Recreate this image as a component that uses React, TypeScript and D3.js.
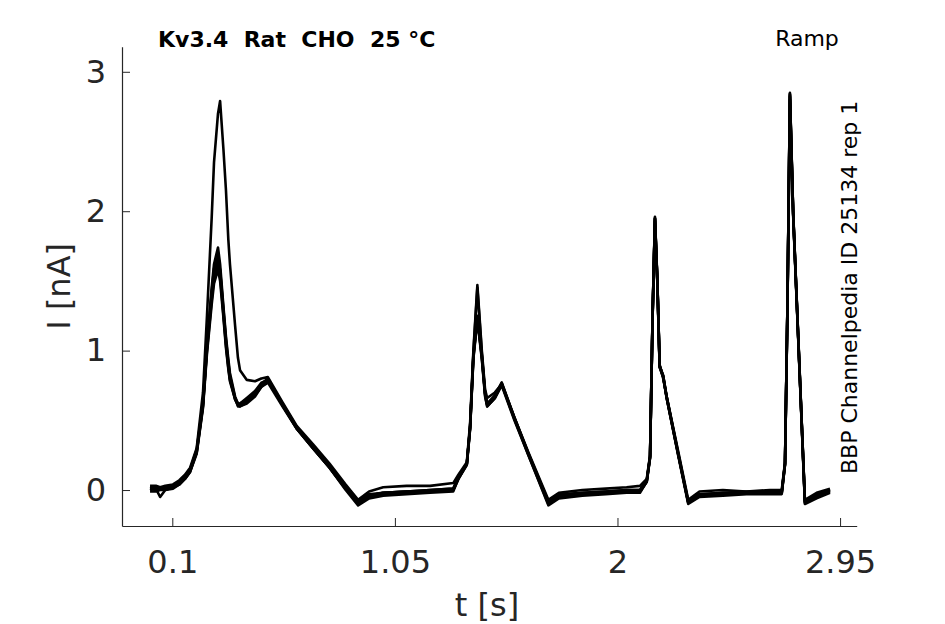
import React, { useEffect, useRef } from 'react';
import * as d3 from 'd3';

// sample times [s], shared by all sweeps
const times = [
  0.005, 0.03, 0.048, 0.07, 0.103, 0.13, 0.154, 0.176, 0.204, 0.231,
  0.248, 0.268, 0.278, 0.295, 0.304, 0.318, 0.329, 0.339, 0.346, 0.368,
  0.38, 0.389, 0.418, 0.453, 0.48, 0.508, 0.57, 0.631, 0.7, 0.771,
  0.84, 0.893, 0.94, 1.0, 1.1, 1.2, 1.299, 1.321, 1.357, 1.371,
  1.385, 1.402, 1.421, 1.435, 1.444, 1.477, 1.506, 1.56, 1.62, 1.705,
  1.75, 1.85, 1.95, 2.039, 2.096, 2.125, 2.139, 2.15, 2.16, 2.17,
  2.18, 2.195, 2.21, 2.26, 2.302, 2.35, 2.45, 2.55, 2.65, 2.701,
  2.715, 2.725, 2.736, 2.75, 2.779, 2.8, 2.85, 2.907,
];

// current [nA] of each sweep
const sweepA = [
  0.03, 0.03, 0.02, 0.03, 0.04, 0.07, 0.11, 0.16, 0.3, 0.7,
  1.25, 1.95, 2.35, 2.7, 2.79, 2.45, 2.15, 1.8, 1.62, 1.18,
  0.95, 0.86, 0.79, 0.78, 0.8, 0.81, 0.63, 0.46, 0.33, 0.19,
  0.04, -0.07, -0.01, 0.02, 0.03, 0.03, 0.05, 0.11, 0.2, 0.48,
  1.0, 1.47, 1.0, 0.72, 0.66, 0.7, 0.76, 0.52, 0.27, -0.07,
  -0.02, 0.0, 0.01, 0.02, 0.03, 0.08, 0.25, 1.25, 1.95, 1.5,
  0.9, 0.8, 0.67, 0.27, -0.07, -0.01, 0.0, -0.01, 0.0, 0.0,
  0.2, 1.28, 2.84, 1.98, 0.78, -0.07, -0.02, 0.01,
];
const sweepB = [
  0.01, 0.0, 0.01, 0.01, 0.02, 0.05, 0.09, 0.14, 0.28, 0.62,
  1.05, 1.45, 1.62, 1.74, 1.62, 1.32, 1.1, 0.94, 0.84, 0.67,
  0.62, 0.6, 0.63, 0.68, 0.74, 0.78, 0.62, 0.45, 0.31, 0.17,
  0.02, -0.09, -0.04, -0.02, -0.01, 0.0, 0.01, 0.09, 0.19, 0.46,
  0.98, 1.45, 0.98, 0.7, 0.62, 0.68, 0.77, 0.52, 0.26, -0.09,
  -0.04, -0.02, -0.01, 0.0, 0.0, 0.07, 0.24, 1.27, 1.96, 1.52,
  0.89, 0.82, 0.67, 0.25, -0.09, -0.03, -0.02, -0.02, -0.01, -0.02,
  0.18, 1.27, 2.85, 1.99, 0.79, -0.08, -0.04, 0.0,
];
const sweepC = [
  0.0, 0.01, -0.05, 0.0, 0.02, 0.04, 0.08, 0.13, 0.27, 0.6,
  1.02, 1.4, 1.56, 1.68, 1.57, 1.28, 1.06, 0.9, 0.8, 0.65,
  0.61, 0.61, 0.64, 0.69, 0.75, 0.79, 0.61, 0.44, 0.3, 0.16,
  0.01, -0.1, -0.05, -0.03, -0.02, -0.01, 0.0, 0.08, 0.18, 0.44,
  0.95, 1.24, 0.95, 0.68, 0.6, 0.66, 0.76, 0.51, 0.25, -0.1,
  -0.05, -0.03, -0.02, -0.01, -0.01, 0.06, 0.23, 1.26, 1.94, 1.5,
  0.88, 0.81, 0.66, 0.25, -0.09, -0.04, -0.03, -0.02, -0.02, -0.02,
  0.19, 1.26, 2.82, 1.97, 0.78, -0.09, -0.05, -0.01,
];
const sweepD = [
  0.02, 0.02, 0.02, 0.02, 0.03, 0.05, 0.09, 0.14, 0.27, 0.61,
  1.0, 1.36, 1.52, 1.62, 1.54, 1.26, 1.04, 0.88, 0.79, 0.66,
  0.62, 0.62, 0.65, 0.7, 0.76, 0.8, 0.62, 0.45, 0.31, 0.17,
  0.02, -0.08, -0.03, -0.02, -0.01, 0.0, 0.01, 0.09, 0.19, 0.45,
  0.96, 1.23, 0.96, 0.69, 0.61, 0.67, 0.77, 0.52, 0.26, -0.08,
  -0.03, -0.02, -0.01, 0.0, 0.0, 0.07, 0.24, 1.26, 1.95, 1.51,
  0.89, 0.82, 0.67, 0.26, -0.08, -0.03, -0.02, -0.01, -0.01, -0.01,
  0.19, 1.27, 2.83, 1.98, 0.79, -0.08, -0.03, 0.0,
];
const sweepE = [
  -0.01, -0.01, 0.0, 0.0, 0.01, 0.04, 0.08, 0.13, 0.26, 0.59,
  0.98, 1.33, 1.48, 1.58, 1.5, 1.24, 1.02, 0.87, 0.78, 0.65,
  0.61, 0.62, 0.66, 0.71, 0.77, 0.79, 0.61, 0.44, 0.3, 0.16,
  0.0, -0.11, -0.06, -0.04, -0.03, -0.02, -0.01, 0.08, 0.18, 0.44,
  0.94, 1.22, 0.94, 0.67, 0.6, 0.66, 0.75, 0.5, 0.25, -0.11,
  -0.06, -0.04, -0.03, -0.02, -0.02, 0.06, 0.23, 1.25, 1.93, 1.49,
  0.88, 0.81, 0.66, 0.24, -0.1, -0.05, -0.04, -0.03, -0.03, -0.03,
  0.18, 1.25, 2.8, 1.96, 0.77, -0.1, -0.06, -0.02,
];
const sweepF = [
  0.01, 0.02, 0.01, 0.02, 0.03, 0.06, 0.1, 0.15, 0.29, 0.63,
  1.04, 1.42, 1.59, 1.65, 1.58, 1.3, 1.08, 0.92, 0.82, 0.66,
  0.6, 0.6, 0.62, 0.67, 0.74, 0.77, 0.6, 0.44, 0.3, 0.16,
  0.01, -0.09, -0.04, -0.02, -0.01, -0.01, 0.0, 0.08, 0.19, 0.45,
  0.97, 1.25, 0.97, 0.69, 0.62, 0.67, 0.76, 0.51, 0.26, -0.09,
  -0.04, -0.03, -0.02, -0.01, -0.01, 0.06, 0.24, 1.27, 1.95, 1.51,
  0.89, 0.82, 0.66, 0.25, -0.09, -0.04, -0.03, -0.02, -0.02, -0.02,
  0.19, 1.27, 2.84, 1.98, 0.78, -0.09, -0.04, 0.0,
];
const sweeps = [sweepA, sweepB, sweepC, sweepD, sweepE, sweepF];

const xTicks = [0.1, 1.05, 2, 2.95];
const xTickLabels = ['0.1', '1.05', '2', '2.95'];
const yTicks = [0, 1, 2, 3];

const App: React.FC = () => {
  const xAxisRef = useRef<SVGGElement | null>(null);
  const yAxisRef = useRef<SVGGElement | null>(null);

  const width = 945;
  const height = 624;
  const left = 122;
  const right = 856.7;
  const top = 46.7;
  const bottom = 526;

  const x = d3.scaleLinear().domain([-0.1147, 3.021]).range([left, right]);
  const y = d3.scaleLinear().domain([-0.258, 3.18]).range([bottom, top]);

  const line = d3
    .line<number>()
    .x((_, i) => x(times[i]))
    .y((d) => y(d));

  useEffect(() => {
    if (xAxisRef.current) {
      const g = d3.select(xAxisRef.current);
      g.selectAll('*').remove();
      g.call(
        d3
          .axisBottom(x)
          .tickValues(xTicks)
          .tickFormat((_, i) => xTickLabels[i])
          .tickSizeInner(-8)
          .tickSizeOuter(0)
          .tickPadding(24)
      );
      g.select('.domain').attr('stroke', '#262626').attr('stroke-width', 1.2);
      g.selectAll('.tick line').attr('stroke', '#262626');
      g.selectAll('.tick text')
        .attr('fill', '#262626')
        .attr('font-size', 32)
        .attr('font-family', 'DejaVu Sans');
    }
    if (yAxisRef.current) {
      const g = d3.select(yAxisRef.current);
      g.selectAll('*').remove();
      g.call(
        d3
          .axisLeft(y)
          .tickValues(yTicks)
          .tickFormat((d) => `${d}`)
          .tickSizeInner(-8)
          .tickSizeOuter(0)
          .tickPadding(16)
      );
      g.select('.domain').attr('stroke', '#262626').attr('stroke-width', 1.2);
      g.selectAll('.tick line').attr('stroke', '#262626');
      g.selectAll('.tick text')
        .attr('fill', '#262626')
        .attr('font-size', 32)
        .attr('font-family', 'DejaVu Sans');
    }
  }, []);

  return (
    <svg
      width={width}
      height={height}
      style={{ position: 'absolute', left: 0, top: 0, background: '#fff' }}
      fontFamily="DejaVu Sans"
    >
      <rect width={width} height={height} fill="#fff" />
      <g>
        {sweeps.map((s, i) => (
          <path
            key={i}
            d={line(s) || ''}
            fill="none"
            stroke="#000"
            strokeWidth={2.6}
            strokeLinejoin="round"
          />
        ))}
      </g>
      <g ref={xAxisRef} transform={`translate(0, ${bottom})`} />
      <g ref={yAxisRef} transform={`translate(${left}, 0)`} />

      <text x={487} y={616} textAnchor="middle" fontSize={32} fill="#262626">
        t [s]
      </text>
      <text
        transform={`translate(70, ${(top + bottom) / 2}) rotate(-90)`}
        textAnchor="middle"
        fontSize={32}
        fill="#262626"
      >
        I [nA]
      </text>

      <text x={158} y={46.5} fontSize={22} fontWeight="bold" fill="#000" style={{ whiteSpace: 'pre' }}>
        {'Kv3.4  Rat  CHO  25 °C'}
      </text>
      <text x={807} y={46} textAnchor="middle" fontSize={22} fill="#000">
        Ramp
      </text>
      <text
        transform="translate(857, 474) rotate(-90)"
        fontSize={22}
        fill="#000"
      >
        BBP Channelpedia ID 25134 rep 1
      </text>
    </svg>
  );
};

export default App;
